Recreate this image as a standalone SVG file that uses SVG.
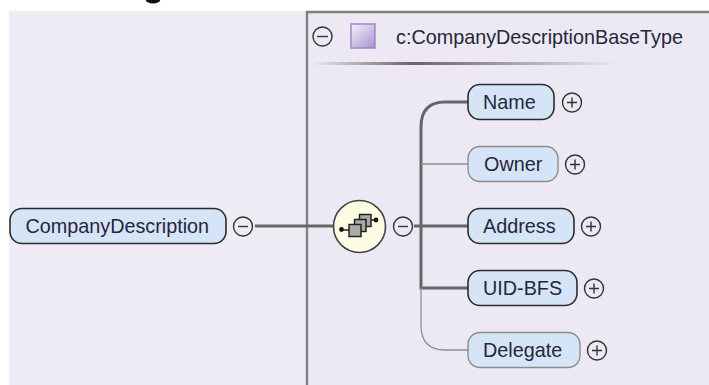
<svg xmlns="http://www.w3.org/2000/svg" width="709" height="385" viewBox="0 0 709 385">
<defs>
<linearGradient id="sq" x1="0" y1="0" x2="1" y2="1"><stop offset="0" stop-color="#f4f2fa"/><stop offset="1" stop-color="#a692cf"/></linearGradient>
<linearGradient id="rule" x1="0" y1="0" x2="1" y2="0"><stop offset="0" stop-color="#ece9f4"/><stop offset=".33" stop-color="#68645f"/><stop offset="1" stop-color="#ece9f4"/></linearGradient>
</defs>
<style>
text{font-family:"Liberation Sans",Arial,sans-serif;font-size:19.800px;fill:#26263c}
.req{fill:#d6e4f7;stroke:#2c2c2c;stroke-width:1.6}
.opt{fill:#d6e4f7;stroke:#8d8d8d;stroke-width:1.4}
.btn{fill:none;stroke:#333;stroke-width:1.4}
.thick{fill:none;stroke:#666;stroke-width:3}
.thin{fill:none;stroke:#8f8f8f;stroke-width:1.3}
.box{fill:#aaa;stroke:#222;stroke-width:1.5}
</style>
<rect width="709" height="385" fill="#fff"/>
<ellipse cx="153" cy="-1" rx="7.500" ry="4.500" fill="#111"/>
<rect x="9" y="11" width="700" height="374" fill="#efecf6"/>
<rect x="308" y="12" width="401" height="373" fill="#ece9f4"/>
<path d="M709 12H307V385" fill="none" stroke="#808080" stroke-width="2.4"/>
<g id="connectors">
<path class="thick" d="M255 226H333"/>
<path class="thick" d="M414 226H468"/>
<path class="thick" d="M468 102H445Q421 102 421 127V288H468"/>
<path class="thin" d="M421 164H468"/>
<path class="thin" d="M421 288V325Q421 350 445 350H468"/>
</g>
<g id="type-header">
<circle class="btn" cx="322.500" cy="36.500" r="9.500"/><path class="btn" d="M317 36.500H328"/>
<rect x="351" y="24" width="24" height="24" fill="url(#sq)" stroke="#a286cd" stroke-width="1.500"/>
<text x="396" y="43.500">c:CompanyDescriptionBaseType</text>
<rect x="312" y="62" width="306" height="3" fill="url(#rule)"/>
</g>
<g id="node-CompanyDescription">
<rect class="req" x="10" y="208.500" width="216" height="35" rx="12"/>
<text x="25.500" y="233">CompanyDescription</text>
<circle class="btn" cx="243" cy="226.500" r="9.500"/><path class="btn" d="M238 226.500H248"/>
</g>
<g id="node-sequence">
<circle cx="359.500" cy="226.500" r="26" fill="#fdfde3" stroke="#444" stroke-width="1.600"/>
<path d="M343 230H350M370 220H376" stroke="#222" stroke-width="1.500"/>
<circle cx="341.500" cy="229.500" r="2.400" fill="#111"/><circle cx="376" cy="220" r="2.400" fill="#111"/>
<rect class="box" x="359.500" y="214.500" width="11.500" height="12"/>
<rect class="box" x="354.500" y="219.500" width="11.500" height="12"/>
<rect class="box" x="349" y="224.500" width="12" height="12"/>
<circle class="btn" cx="403" cy="226.500" r="9.500"/><path class="btn" d="M398 226.500H408"/>
</g>
<g id="node-Name">
<rect class="req" x="468" y="84.500" width="86" height="35" rx="12"/>
<text x="483" y="109">Name</text>
<circle class="btn" cx="572" cy="102.500" r="9.500"/><path class="btn" d="M567 102.500H577M572 97.500V107.500"/>
</g>
<g id="node-Owner">
<rect class="opt" x="468" y="146.500" width="90" height="35" rx="12"/>
<text x="484" y="171">Owner</text>
<circle class="btn" cx="575" cy="164.500" r="9.500"/><path class="btn" d="M570 164.500H580M575 159.500V169.500"/>
</g>
<g id="node-Address">
<rect class="req" x="468" y="208.500" width="106" height="35" rx="12"/>
<text x="483" y="233">Address</text>
<circle class="btn" cx="591" cy="226.500" r="9.500"/><path class="btn" d="M586 226.500H596M591 221.500V231.500"/>
</g>
<g id="node-UID-BFS">
<rect class="req" x="468" y="270.500" width="109" height="35" rx="12"/>
<text x="483" y="295">UID-BFS</text>
<circle class="btn" cx="594" cy="288.500" r="9.500"/><path class="btn" d="M589 288.500H599M594 283.500V293.500"/>
</g>
<g id="node-Delegate">
<rect class="opt" x="468" y="332.500" width="112" height="35" rx="12"/>
<text x="483" y="357">Delegate</text>
<circle class="btn" cx="597" cy="350.500" r="9.500"/><path class="btn" d="M592 350.500H602M597 345.500V355.500"/>
</g>
</svg>
